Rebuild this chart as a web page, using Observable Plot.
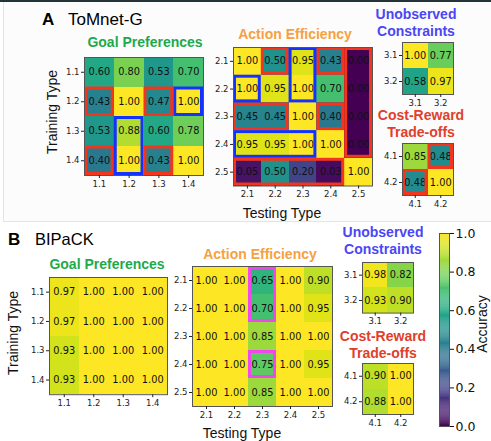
<!DOCTYPE html>
<html><head><meta charset="utf-8">
<script src="https://cdn.jsdelivr.net/npm/d3@7"></script>
<script src="https://cdn.jsdelivr.net/npm/@observablehq/plot@0.6"></script>
<style>
html,body{margin:0;padding:0;background:#fff;}
#root{position:relative;width:491px;height:441px;overflow:hidden;background:#fff;font-family:"Liberation Sans",Arial,sans-serif;}
.abs{position:absolute;white-space:nowrap;}
.ttl{position:absolute;font-weight:bold;font-size:14px;line-height:17px;text-align:center;transform:translateX(-50%);white-space:nowrap;}
.ax{position:absolute;font-size:14px;color:#111;white-space:nowrap;line-height:16px;transform:translate(-50%,-50%);}
.rot{transform:translate(-50%,-50%) rotate(-90deg);}
svg{overflow:visible;}
</style></head>
<body><div id="root"></div>
<script>
// ---- data ----
const goalLabels = ["1.1","1.2","1.3","1.4"];
const actionLabels = ["2.1","2.2","2.3","2.4","2.5"];
const unobsLabels = ["3.1","3.2"];
const costLabels = ["4.1","4.2"];

const goalA = [[0.60,0.80,0.53,0.70],[0.43,1.00,0.47,1.00],[0.53,0.88,0.60,0.78],[0.40,1.00,0.43,1.00]];
const actionA = [[1.00,0.50,0.95,0.43,0.00],[1.00,0.95,1.00,0.70,0.00],[0.45,0.45,1.00,0.40,0.00],[0.95,0.95,1.00,1.00,0.00],[0.05,0.50,0.20,0.03,1.00]];
const unobsA = [[1.00,0.77],[0.58,0.97]];
const costA = [[0.85,0.48],[0.48,1.00]];

const goalB = [[0.97,1.00,1.00,1.00],[0.97,1.00,1.00,1.00],[0.93,1.00,1.00,1.00],[0.93,1.00,1.00,1.00]];
const actionB = [[1.00,1.00,0.65,1.00,0.90],[1.00,1.00,0.70,1.00,0.95],[1.00,1.00,0.85,1.00,1.00],[1.00,1.00,0.75,1.00,0.95],[1.00,1.00,0.85,1.00,1.00]];
const unobsB = [[0.98,0.82],[0.93,0.90]];
const costB = [[0.90,1.00],[0.88,1.00]];

// highlighted regions: [col from, col to, row from, row to, kind]
const goalABoxes = [["1.1","1.1","1.2","1.2","fail"],["1.3","1.3","1.2","1.2","fail"],["1.1","1.1","1.4","1.4","fail"],["1.3","1.3","1.4","1.4","fail"],["1.4","1.4","1.2","1.2","pass"],["1.2","1.2","1.3","1.4","pass"]];
const actionABoxes = [["2.2","2.2","2.1","2.1","fail"],["2.4","2.4","2.1","2.1","fail"],["2.5","2.5","2.1","2.4","fail"],["2.1","2.2","2.3","2.3","fail"],["2.4","2.4","2.3","2.3","fail"],["2.1","2.4","2.5","2.5","fail"],["2.1","2.1","2.2","2.2","pass"],["2.3","2.3","2.1","2.2","pass"],["2.1","2.3","2.4","2.4","pass"]];
const costABoxes = [["4.2","4.2","4.1","4.1","fail"],["4.1","4.1","4.2","4.2","fail"]];
const actionBBoxes = [["2.3","2.3","2.1","2.2","note"],["2.3","2.3","2.4","2.4","note"]];

const colorTicks = [0,0.2,0.4,0.6,0.8,1.0];

// ---- drawing ----
const root = document.getElementById("root");
const boxColor = {fail:"#f2361d", pass:"#1432ff", note:"#f046ee"};
const color = {type:"linear", scheme:"viridis", domain:[0,1]};

function place(el, left, top){ el.style.position="absolute"; el.style.left=left+"px"; el.style.top=top+"px"; root.appendChild(el); }

function heat(rows, cols, values, boxes, left, top, cw, ch){
  const ml=30, mt=3, mr=3, mb=20;
  const data = values.flatMap((r,i)=>r.map((v,j)=>({i,j,v})));
  const bx = boxes.map(b=>({x1:cols.indexOf(b[0]), x2:cols.indexOf(b[1])+1, y1:rows.indexOf(b[2]), y2:rows.indexOf(b[3])+1, k:b[4]}));
  const w = cols.length*cw, h = rows.length*ch;
  const p = Plot.plot({
    width: ml+w+mr, height: mt+h+mb, marginLeft: ml, marginTop: mt, marginRight: mr, marginBottom: mb,
    style:{fontFamily:"DejaVu Sans, sans-serif", fontSize:"8.5px", color:"#222", background:"transparent", overflow:"visible"},
    x:{domain:[0,cols.length]},
    y:{domain:[0,rows.length], reverse:true},
    color,
    marks:[
      Plot.rect(data,{x1:d=>d.j, x2:d=>d.j+1, y1:d=>d.i, y2:d=>d.i+1, fill:"v", shapeRendering:"crispEdges"}),
      Plot.text(data,{x:d=>d.j+0.5, y:d=>d.i+0.5, text:d=>d.v.toFixed(2), fill:"#111", fontSize:9.8}),
      Plot.rect(bx,{x1:"x1", x2:"x2", y1:"y1", y2:"y2", fill:null, stroke:d=>boxColor[d.k], strokeWidth:3, inset:1.5}),
      Plot.frame({stroke:"#555", strokeWidth:1}),
      Plot.axisX({ticks: cols.map((_,j)=>j+0.5), tickFormat:t=>cols[Math.floor(t)], tickSize:3, tickPadding:2, label:null, fontSize:8.5}),
      Plot.axisY({ticks: rows.map((_,i)=>i+0.5), tickFormat:t=>rows[Math.floor(t)], tickSize:3, tickPadding:2, label:null, fontSize:8.5})
    ]
  });
  place(p, left-ml, top-mt);
}

function title(text, cx, top, col){
  const d=document.createElement("div"); d.className="ttl"; d.innerHTML=text; d.style.color=col; d.style.left=cx+"px"; d.style.top=top+"px"; root.appendChild(d);
}
function axTitle(text, cx, cy, rot){
  const d=document.createElement("div"); d.className="ax"+(rot?" rot":""); d.textContent=text; d.style.left=cx+"px"; d.style.top=cy+"px"; root.appendChild(d);
}
function txt(html, left, top, size, weight){
  const d=document.createElement("div"); d.className="abs"; d.innerHTML=html; d.style.left=left+"px"; d.style.top=top+"px"; d.style.fontSize=size+"px"; d.style.fontWeight=weight||"normal"; d.style.color="#000"; root.appendChild(d);
}

// decorations
const bar=document.createElement("div"); bar.style.cssText="position:absolute;left:0;top:0;width:491px;height:2px;background:#24343a;"; root.appendChild(bar);
const frameA=document.createElement("div"); frameA.style.cssText="position:absolute;left:3px;top:2px;width:500px;height:219px;border-left:1px solid #e4e4e4;border-bottom:1px solid #e4e4e4;background:#fcfcfc;"; root.appendChild(frameA);

const GREEN="#1fa94b", ORANGE="#f6a13f", BLUE="#4b46f5", RED="#e0402b";

// Panel A
txt("A", 42, 10, 17, "bold");
txt("ToMnet-G", 68, 10, 17);
title("Goal Preferences", 145, 34, GREEN);
title("Action Efficiency", 295, 26, ORANGE);
title("Unobserved<br>Constraints", 416, 6, BLUE);
title("Cost-Reward<br>Trade-offs", 421, 107, RED);
heat(goalLabels, goalLabels, goalA, goalABoxes, 84, 57, 29.75, 29.5);
heat(actionLabels, actionLabels, actionA, actionABoxes, 233, 47, 27.8, 27.7);
heat(unobsLabels, unobsLabels, unobsA, [], 402, 42, 25.5, 26);
heat(costLabels, costLabels, costA, costABoxes, 402, 143, 25.5, 26);
axTitle("Training Type", 52, 112, true);
axTitle("Testing Type", 282, 213, false);

// Panel B
txt("B", 8, 230, 17, "bold");
txt("BIPaCK", 35, 230, 16.5);
title("Goal Preferences", 107, 256, GREEN);
title("Action Efficiency", 260, 246, ORANGE);
title("Unobserved<br>Constraints", 383, 224, BLUE);
title("Cost-Reward<br>Trade-offs", 383, 328, RED);
heat(goalLabels, goalLabels, goalB, [], 49, 277, 29.5, 29.3);
heat(actionLabels, actionLabels, actionB, actionBBoxes, 192, 266, 28, 28);
heat(unobsLabels, unobsLabels, unobsB, [], 362, 262, 25.5, 25.3);
heat(costLabels, costLabels, costB, [], 362, 363, 25.5, 25.5);
axTitle("Training Type", 13, 333, true);
axTitle("Testing Type", 242, 433, false);

// colorbar
(function(){
  const mt=8, mb=8, ml=1, mr=40, h=193, w=10;
  const steps = d3.range(0, 1, 0.005);
  const p = Plot.plot({
    width: ml+w+mr, height: mt+h+mb, marginLeft: ml, marginRight: mr, marginTop: mt, marginBottom: mb,
    style:{fontFamily:"DejaVu Sans, sans-serif", fontSize:"12.5px", color:"#111", background:"transparent", overflow:"visible"},
    x:{domain:[0,1], axis:null},
    y:{domain:[0,1]},
    color,
    marks:[
      Plot.rect(steps,{x1:0, x2:1, y1:d=>d, y2:d=>d+0.0051, fill:d=>d+0.0025}),
      Plot.frame({stroke:"#555"}),
      Plot.axisY(colorTicks,{anchor:"right", tickSize:4, tickPadding:2, tickFormat:d3.format(".1f"), label:null, fontSize:12.5})
    ]
  });
  place(p, 439-ml, 233-mt);
})();
axTitle("Accuracy", 482, 324, true);
</script>
</body></html>
